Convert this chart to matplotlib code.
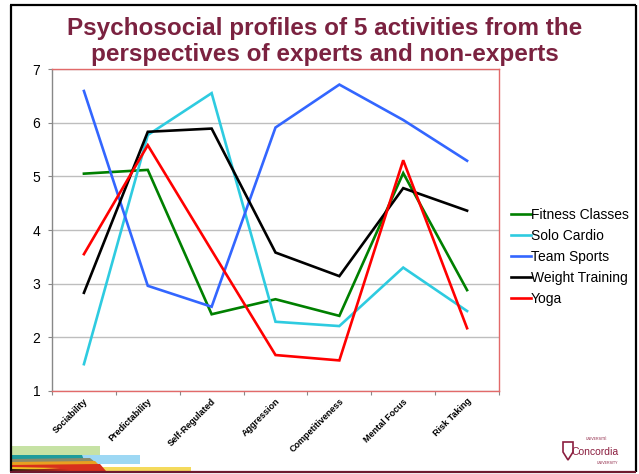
import matplotlib
matplotlib.use("Agg")
import matplotlib.pyplot as plt
from matplotlib.patches import Rectangle, Polygon
import matplotlib.transforms as mtransforms

categories = ["Sociability", "Predictability", "Self-Regulated", "Aggression",
              "Competitiveness", "Mental Focus", "Risk Taking"]
fitness_classes = [5.05, 5.12, 2.43, 2.71, 2.40, 5.06, 2.88]
solo_cardio = [1.50, 5.77, 6.55, 2.29, 2.21, 3.30, 2.49]
team_sports = [6.59, 2.96, 2.57, 5.91, 6.71, 6.05, 5.29]
weight_training = [2.83, 5.83, 5.89, 3.58, 3.14, 4.78, 4.36]
yoga = [3.55, 5.58, 3.62, 1.67, 1.57, 5.30, 2.17]
series_names = ["Fitness Classes", "Solo Cardio", "Team Sports", "Weight Training", "Yoga"]
series_values = [fitness_classes, solo_cardio, team_sports, weight_training, yoga]
series_colors = ["#008000", "#2ECBE0", "#3366FF", "#000000", "#FF0000"]
yticks = [1, 2, 3, 4, 5, 6, 7]
title_lines = ["Psychosocial profiles of 5 activities from the",
               "perspectives of experts and non-experts"]

plt.rcParams['font.family'] = ['Liberation Sans', 'DejaVu Sans']

W, H = 639, 474
fig = plt.figure(figsize=(W / 100, H / 100), dpi=100)

# background overlay axes in pixel coordinates
bg = fig.add_axes([0, 0, 1, 1], zorder=-1)
bg.set_xlim(0, W)
bg.set_ylim(H, 0)
bg.axis('off')

# slide frame
bg.plot([10.5, 10.5], [5, 472], color='black', lw=1.6, solid_capstyle='butt')
bg.plot([10, 636], [5, 5], color='black', lw=1.6, solid_capstyle='butt')
bg.plot([636, 636], [5, 472], color='black', lw=1.6, solid_capstyle='butt')
bg.plot([10, 636], [471.5, 471.5], color='#6E1A2E', lw=1.6, solid_capstyle='butt')

# decorative stripes bottom-left
bg.add_patch(Rectangle((12, 445.5), 88, 11.5, color='#C6E2A4', lw=0))
bg.add_patch(Rectangle((80, 455), 60, 9, color='#9DD8F4', lw=0))
bg.add_patch(Rectangle((100, 466.5), 91, 4.5, color='#F4DA5C', lw=0))
bg.add_patch(Polygon([(12, 455), (82, 455), (84, 460), (12, 461)], color='#1E9C9C', lw=0))
bg.add_patch(Polygon([(12, 459), (90, 458), (95, 462), (12, 463)], color='#8A8A6A', lw=0))
bg.add_patch(Polygon([(12, 462), (95, 461), (100, 466), (12, 466)], color='#E8A020', lw=0))
bg.add_patch(Polygon([(12, 465), (100, 464), (106, 471), (12, 471)], color='#D8301C', lw=0))
bg.add_patch(Polygon([(12, 467), (60, 468), (12, 471)], color='#F0C020', lw=0))
bg.add_patch(Polygon([(12, 469), (70, 470), (12, 471)], color='#3A1A10', lw=0))

# Concordia logo
bg.add_patch(Polygon([(563, 442), (573, 442), (573, 452), (568, 460), (563, 452)],
                     facecolor='white', edgecolor='#8B1E3F', lw=1.2))
bg.text(571, 452, "Concordia", color='#8B1E3F', fontsize=7.5, ha='left', va='center')
bg.text(607, 439, "UNIVERSITÉ", color='#8B1E3F', fontsize=2.6, ha='right', va='center')
bg.text(618, 463, "UNIVERSITY", color='#8B1E3F', fontsize=2.6, ha='right', va='center')

# title
bg.text(325, 35, title_lines[0], color='#7B2240', fontsize=17.5, fontweight='bold',
        ha='center', va='baseline')
bg.text(325, 61, title_lines[1], color='#7B2240', fontsize=17.5, fontweight='bold',
        ha='center', va='baseline')

# main axes
left, right, top, bottom = 52, 499, 69, 391
ax = fig.add_axes([left / W, (H - bottom) / H, (right - left) / W, (bottom - top) / H])
ax.set_facecolor('none')
x = list(range(len(categories)))
for name, vals, col in zip(series_names, series_values, series_colors):
    ax.plot(x, vals, color=col, lw=1.9, label=name, solid_joinstyle='miter')

ax.set_xlim(-0.5, len(categories) - 0.5)
ax.set_ylim(1, 7)
ax.set_yticks(yticks)
ax.set_yticklabels([str(t) for t in yticks], fontsize=10)
ax.yaxis.grid(True, color='#BEBEBE', lw=1)
ax.set_axisbelow(True)
ax.tick_params(axis='y', length=3, color='#888888', pad=5.5, width=0.8)
ax.set_xticks([i - 0.5 for i in range(len(categories) + 1)])
ax.set_xticklabels([])
ax.tick_params(axis='x', length=3, color='#888888', width=0.8)
for s in ['top', 'right', 'bottom']:
    ax.spines[s].set_color('#E26A6A')
    ax.spines[s].set_linewidth(1.0)
ax.spines['left'].set_color('#888888')
ax.spines['left'].set_linewidth(1.0)

offset = mtransforms.ScaledTranslation(3 / 100, -9 / 100, fig.dpi_scale_trans)
trans = mtransforms.blended_transform_factory(ax.transData, ax.transAxes) + offset
for i, lab in enumerate(categories):
    ax.text(i, 0, lab, transform=trans, rotation=45, rotation_mode='anchor',
            ha='right', va='center', fontsize=6.5, fontweight='bold')

leg = ax.legend(loc='upper left', bbox_to_anchor=(511 / W, (H - 208) / H),
                bbox_transform=fig.transFigure, frameon=False, fontsize=10,
                handlelength=1.45, handletextpad=0.0, labelspacing=0.5,
                borderpad=0, borderaxespad=0)

fig.savefig("out.png", dpi=100)
